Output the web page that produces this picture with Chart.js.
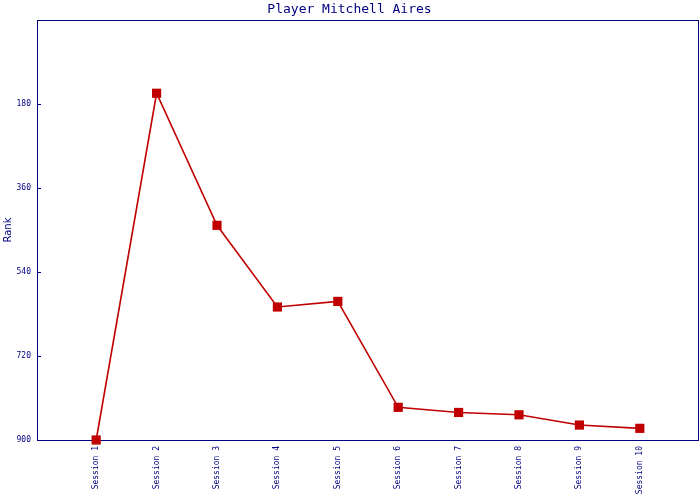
<!DOCTYPE html>
<html>
<head>
<meta charset="utf-8">
<script src="https://cdn.jsdelivr.net/npm/chart.js@4/dist/chart.umd.min.js"></script>
<style>
  html, body { margin: 0; padding: 0; background: #fff; }
  #wrap { width: 700px; height: 500px; }
</style>
</head>
<body>
<div id="wrap"><canvas id="myChart" width="700" height="500"></canvas></div>
<script>
const sessions = ['Session 1', 'Session 2', 'Session 3', 'Session 4', 'Session 5',
                  'Session 6', 'Session 7', 'Session 8', 'Session 9', 'Session 10'];
const ranks = [900, 157, 440, 615, 603, 830, 841, 846, 868, 875];
const rankTicks = [180, 360, 540, 720, 900];

const navy = '#000080';
const red = '#c00000';

// box around plot area + small inward ticks on the left axis
const frame = {
  id: 'frame',
  beforeDatasetsDraw(chart) {
    const ctx = chart.ctx;
    const a = chart.chartArea;
    const y = chart.scales.y;
    ctx.save();
    ctx.strokeStyle = navy;
    ctx.lineWidth = 1;
    ctx.strokeRect(Math.round(a.left) + 0.5, Math.round(a.top) + 0.5,
                   Math.round(a.right - a.left) - 1, Math.round(a.bottom - a.top));
    ctx.beginPath();
    rankTicks.forEach(v => {
      const py = Math.round(y.getPixelForValue(v)) + 0.5;
      ctx.moveTo(a.left, py);
      ctx.lineTo(a.left + 4, py);
    });
    ctx.stroke();
    ctx.restore();
  }
};

window.onload = function() {
  const ctx = document.getElementById('myChart').getContext('2d');
  new Chart(ctx, {
    type: 'line',
    data: {
      datasets: [{
        data: ranks.map((r, i) => ({ x: i + 1, y: r })),
        borderColor: red,
        backgroundColor: red,
        borderWidth: 1.6,
        pointStyle: 'rect',
        pointRadius: 6.5,
        pointBorderWidth: 0,
        pointBackgroundColor: red,
        tension: 0,
        clip: false
      }]
    },
    plugins: [frame],
    options: {
      responsive: false,
      animation: false,
      layout: { autoPadding: false, padding: { top: 0, right: 1, bottom: 0, left: 0 } },
      plugins: {
        legend: { display: false },
        tooltip: { enabled: false },
        title: {
          display: true,
          text: 'Player Mitchell Aires',
          color: navy,
          font: { family: 'DejaVu Sans Mono', size: 13, weight: 'normal' },
          padding: { top: 2, bottom: 2.4 }
        }
      },
      scales: {
        x: {
          type: 'linear',
          min: 0.02,
          max: 10.98,
          afterBuildTicks: s => { s.ticks = sessions.map((_, i) => ({ value: i + 1 })); },
          afterFit: s => { s.height = 60; s.paddingLeft = 0; s.paddingRight = 0; },
          grid: { display: false, drawTicks: false },
          border: { display: false },
          ticks: {
            color: navy,
            font: { family: 'DejaVu Sans Mono', size: 8 },
            minRotation: 90,
            maxRotation: 90,
            padding: 6,
            autoSkip: false,
            callback: v => sessions[v - 1] || ''
          }
        },
        y: {
          reverse: true,
          min: 0,
          max: 900,
          afterBuildTicks: s => { s.ticks = rankTicks.map(v => ({ value: v })); },
          afterFit: s => { s.width = 37; },
          grid: { display: false, drawTicks: false },
          border: { display: false },
          title: {
            display: true,
            text: 'Rank',
            color: navy,
            font: { family: 'DejaVu Sans', size: 10 },
            padding: { top: 2, bottom: 0 }
          },
          ticks: {
            color: navy,
            font: { family: 'DejaVu Sans Mono', size: 8 },
            padding: 6
          }
        }
      }
    }
  });
};
</script>
</body>
</html>
